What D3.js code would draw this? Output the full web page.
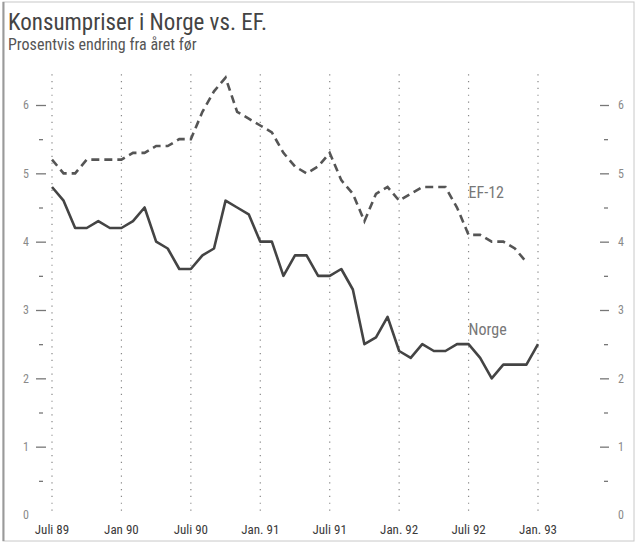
<!DOCTYPE html>
<html>
<head>
<meta charset="utf-8">
<style>
  body { margin: 0; background: #fff; }
  svg { display: block; }
  text { font-family: "Liberation Sans Narrow", "Roboto Condensed", "Liberation Sans", sans-serif; }
</style>
</head>
<body>
<div id="chart"></div>

<script src="https://cdnjs.cloudflare.com/ajax/libs/d3/7.8.5/d3.min.js"></script>
<script>
  // Consumer prices, % change from year before, monthly from July 1989
  const norge = [
    4.8, 4.6, 4.2, 4.2, 4.3, 4.2,
    4.2, 4.3, 4.5, 4.0, 3.9, 3.6, 3.6, 3.8, 3.9, 4.6, 4.5, 4.4,
    4.0, 4.0, 3.5, 3.8, 3.8, 3.5, 3.5, 3.6, 3.3, 2.5, 2.6, 2.9,
    2.4, 2.3, 2.5, 2.4, 2.4, 2.5, 2.5, 2.3, 2.0, 2.2, 2.2, 2.2,
    2.5
  ];
  const ef12 = [
    5.2, 5.0, 5.0, 5.2, 5.2, 5.2,
    5.2, 5.3, 5.3, 5.4, 5.4, 5.5, 5.5, 5.9, 6.2, 6.4, 5.9, 5.8,
    5.7, 5.6, 5.3, 5.1, 5.0, 5.1, 5.3, 4.9, 4.7, 4.3, 4.7, 4.8,
    4.6, 4.7, 4.8, 4.8, 4.8, 4.5, 4.1, 4.1, 4.0, 4.0, 3.9, 3.7
  ];
  const xTickMonths = [0, 6, 12, 18, 24, 30, 36, 42];
  const xTickLabels = ["Juli 89", "Jan 90", "Juli 90", "Jan. 91", "Juli 91", "Jan. 92", "Juli 92", "Jan. 93"];
  const yMajor = [0, 1, 2, 3, 4, 5, 6];
  const yMinor = [0.5, 1.5, 2.5, 3.5, 4.5, 5.5];

  const width = 637;
  const height = 543;

  const x = d3.scaleLinear().domain([0, 42]).range([52, 538]);
  const y = d3.scaleLinear().domain([0, 6]).range([515, 105]);

  const svg = d3.create("svg")
    .attr("width", width)
    .attr("height", height)
    .attr("viewBox", [0, 0, width, height]);

  // scan frame
  svg.append("rect")
    .attr("x", 3).attr("y", 2)
    .attr("width", 631).attr("height", 539)
    .attr("fill", "#fff")
    .attr("stroke", "#c8c8c8");
  svg.append("line")
    .attr("x1", 3.5).attr("x2", 3.5).attr("y1", 2).attr("y2", 541)
    .attr("stroke", "#9a9a9a").attr("stroke-width", 2);

  // titles
  svg.append("text")
    .attr("x", 8).attr("y", 30)
    .attr("font-size", 23)
    .attr("fill", "#444")
    .text("Konsumpriser i Norge vs. EF.");
  svg.append("text")
    .attr("x", 8).attr("y", 50)
    .attr("font-size", 16)
    .attr("fill", "#555")
    .text("Prosentvis endring fra året før");

  // dotted vertical grid at the labelled months
  svg.append("g")
    .selectAll("line")
    .data(xTickMonths)
    .join("line")
    .attr("x1", d => x(d)).attr("x2", d => x(d))
    .attr("y1", y(6.45)).attr("y2", y(0.05))
    .attr("stroke", "#888")
    .attr("stroke-width", 1.2)
    .attr("stroke-dasharray", "1.2,5.6");

  // left axis
  const leftMajor = svg.append("g")
    .attr("transform", "translate(46,0)")
    .call(d3.axisLeft(y).tickValues(yMajor).tickSize(10).tickPadding(7).tickFormat(d3.format("d")));
  const leftMinor = svg.append("g")
    .attr("transform", "translate(43,0)")
    .call(d3.axisLeft(y).tickValues(yMinor).tickSize(4).tickFormat(""));

  // right axis
  const rightMajor = svg.append("g")
    .attr("transform", "translate(600,0)")
    .call(d3.axisRight(y).tickValues(yMajor).tickSize(9).tickPadding(9).tickFormat(d3.format("d")));
  const rightMinor = svg.append("g")
    .attr("transform", "translate(604,0)")
    .call(d3.axisRight(y).tickValues(yMinor).tickSize(4).tickFormat(""));

  [leftMajor, leftMinor, rightMajor, rightMinor].forEach(g => {
    g.select(".domain").remove();
    g.selectAll(".tick line").attr("stroke", "#777").attr("stroke-width", 1.3);
    g.selectAll(".tick text")
      .attr("font-size", 12)
      .attr("fill", "#8a8a8a")
      .attr("font-family", "\"Liberation Sans Narrow\", \"Liberation Sans\", sans-serif");
  });
  // no tick mark at zero
  [leftMajor, rightMajor].forEach(g => {
    g.selectAll(".tick").filter(d => d === 0).select("line").remove();
  });

  // bottom labels
  svg.append("g")
    .selectAll("text")
    .data(xTickMonths)
    .join("text")
    .attr("x", d => x(d))
    .attr("y", 534)
    .attr("text-anchor", "middle")
    .attr("font-size", 13)
    .attr("fill", "#3a3a3a")
    .text((d, i) => xTickLabels[i]);

  const line = d3.line()
    .x((d, i) => x(i))
    .y(d => y(d));

  svg.append("path")
    .datum(ef12)
    .attr("d", line)
    .attr("fill", "none")
    .attr("stroke", "#555")
    .attr("stroke-width", 2.6)
    .attr("stroke-dasharray", "8,5");

  svg.append("path")
    .datum(norge)
    .attr("d", line)
    .attr("fill", "none")
    .attr("stroke", "#444")
    .attr("stroke-width", 2.6)
    .attr("stroke-linejoin", "round");

  // series labels
  svg.append("text")
    .attr("x", x(36)).attr("y", y(4.72) + 6)
    .attr("font-size", 16)
    .attr("fill", "#777")
    .text("EF-12");
  svg.append("text")
    .attr("x", x(36)).attr("y", y(2.72) + 6)
    .attr("font-size", 16)
    .attr("fill", "#777")
    .text("Norge");

  d3.select("#chart").node().appendChild(svg.node());
</script>
</body>
</html>
